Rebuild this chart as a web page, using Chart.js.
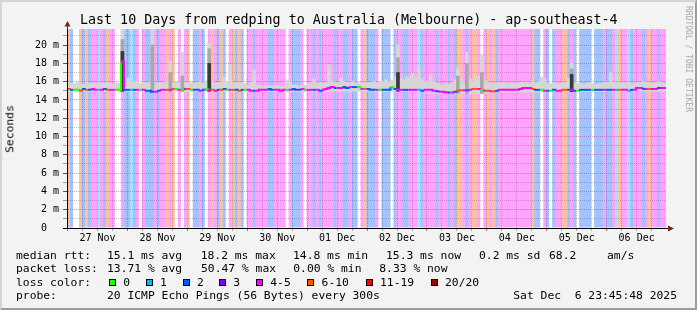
<!DOCTYPE html>
<html>
<head>
<meta charset="utf-8">
<script src="https://cdn.jsdelivr.net/npm/chart.js@4.4.1/dist/chart.umd.min.js"></script>
<style>
html, body { margin: 0; padding: 0; background: #f3f3f3; }
#frame { position: absolute; left: 0; top: 0; width: 697px; height: 310px; box-sizing: border-box;
  background: #f3f3f3; border-top: 2px solid #d4d4d4; border-left: 2px solid #d4d4d4;
  border-right: 2px solid #9c9c9c; border-bottom: 2px solid #9c9c9c; }
canvas { position: absolute; left: 0; top: 0; }
.t { position: absolute; font-family: 'DejaVu Sans Mono', monospace; font-size: 11.33px; line-height: 1; white-space: pre; color: #000; }
.sw { position: absolute; width: 5px; height: 5px; border: 1px solid #000; }
</style>
</head>
<body>
<div id="frame"></div>
<canvas id="chart" width="697" height="310"></canvas>
<div id="texts"></div>
<script>
// ---- data ----
var dayLabels = ['27 Nov', '28 Nov', '29 Nov', '30 Nov', '01 Dec', '02 Dec', '03 Dec', '04 Dec', '05 Dec', '06 Dec'];
var yTickValues = [0, 2, 4, 6, 8, 10, 12, 14, 16, 18, 20];
var yTickLabels = ['0  ', '2 m', '4 m', '6 m', '8 m', '10 m', '12 m', '14 m', '16 m', '18 m', '20 m'];
var lossLabels = ['0', '1', '2', '3', '4-5', '6-10', '11-19', '20/20'];
var lossColors = ['#26ff00', '#00b8ff', '#0059ff', '#7e00ff', '#ff00ff', '#ff5500', '#ff0000', '#a10000'];

// loss class per 72 min step (index into lossLabels), one string per day
var lossByDay = [
   '52005252441425440042',
   '21240422242445450404',
   '50224204542520452520',
   '44244442244440422240',
   '44242444424422422045',
   '22240222024422444124',
   '44424442425542455404',
   '54524444444444452204',
   '20244552420222202224',
   '22415441244424544244'
];

// median rtt (ms) per 72 min step
var medianByDay = [
   [15.2,15.1,15.1,15.1,15.0,15.2,15.1,15.1,15.2,15.1,15.1,15.1,15.2,15.1,15.1,15.1,15.1,15.1,18.2,15.1],
   [15.1,15.1,15.1,15.1,15.1,15.1,15.0,15.0,14.9,14.9,15.0,15.1,15.1,15.1,15.1,15.2,15.2,15.1,15.1,15.2],
   [15.2,15.1,15.1,15.1,15.0,15.1,15.2,15.1,15.1,15.0,15.1,15.1,15.2,15.1,15.1,15.1,15.1,15.0,15.1,15.1],
   [15.1,15.0,15.0,15.0,15.1,15.1,15.1,15.2,15.1,15.1,15.1,15.0,15.1,15.1,15.1,15.2,15.1,15.1,15.2,15.1],
   [15.1,15.1,15.1,15.1,15.0,15.1,15.2,15.3,15.4,15.3,15.3,15.3,15.4,15.3,15.4,15.4,15.4,15.4,15.2,15.2],
   [15.2,15.1,15.1,15.1,15.1,15.1,15.1,15.1,15.4,15.2,15.1,15.1,15.1,15.1,15.1,15.1,15.1,15.1,15.0,15.1],
   [15.1,15.1,15.0,14.95,14.9,14.9,14.85,14.8,14.8,14.9,15.0,15.05,15.05,15.05,15.1,15.2,15.2,15.2,15.1,15.0],
   [15.0,14.95,14.95,15.0,15.1,15.1,15.1,15.1,15.1,15.1,15.1,15.2,15.3,15.3,15.3,15.2,15.1,15.1,15.1,15.0],
   [15.0,15.0,15.1,15.0,15.0,15.1,15.1,15.1,15.1,15.0,15.0,15.1,15.1,15.1,15.1,15.1,15.1,15.1,15.1,15.1],
   [15.1,15.1,15.1,15.1,15.1,15.1,15.1,15.0,15.1,15.1,15.3,15.3,15.2,15.2,15.2,15.2,15.2,15.3,15.3,15.3]
];

// top of the smoke (slowest ping, ms) per 72 min step
var smokeTopByDay = [
   [15.9,15.8,15.8,15.9,15.8,15.7,15.9,15.8,15.8,15.8,15.7,15.8,15.8,15.9,15.8,15.7,15.8,15.8,21.75,15.8],
   [16.4,16.0,16.0,16.0,15.8,15.9,15.8,15.9,21.75,15.8,15.9,15.8,15.9,16.0,18.2,15.8,16.0,15.9,19.2,15.9],
   [15.8,15.9,15.8,15.9,16.0,15.8,16.1,20.2,16.0,15.8,15.9,15.8,16.5,15.9,17.8,15.8,15.9,15.8,15.9,15.8],
   [15.6,15.9,17.3,15.6,15.6,15.5,15.6,15.6,15.5,15.6,15.6,15.5,15.6,16.2,16.0,15.6,15.6,15.5,15.6,15.6],
   [15.8,15.8,16.3,15.8,15.9,15.8,15.9,17.8,16.0,15.9,15.9,16.4,16.0,15.9,15.9,16.0,15.8,15.9,15.8,15.8],
   [15.9,15.9,16.0,15.8,15.9,16.0,16.2,16.0,16.2,16.5,20.0,16.4,16.2,16.5,16.6,16.9,16.5,17.3,16.3,16.0],
   [16.0,16.7,16.0,15.8,15.7,15.6,15.8,15.7,15.8,16.2,17.5,16.2,16.0,19.2,16.3,16.0,16.4,16.6,18.9,16.1],
   [15.9,15.8,15.8,15.9,15.8,15.9,15.8,15.8,15.9,15.8,15.8,15.9,15.9,15.9,15.8,16.0,15.9,16.0,16.5,16.3],
   [15.8,15.8,15.9,15.8,15.7,15.8,15.9,16.4,18.0,15.9,15.8,15.8,15.7,15.8,15.9,15.8,15.7,15.8,15.8,15.9],
   [15.9,17.0,15.9,15.8,15.8,15.9,15.8,15.9,15.8,15.8,15.9,15.9,16.0,15.9,15.9,15.8,15.9,16.0,15.9,15.8]
];
// bottom of the smoke (fastest ping, ms) per day
var smokeLowByDay = [14.95, 14.9, 14.95, 14.9, 14.95, 14.95, 14.7, 14.85, 14.9, 14.95];

// denser smoke on the big spikes
var spikeSteps = [18, 28, 34, 38, 47, 110, 130, 133, 138, 168];
var spikeMid   = [20.6, 20.0, 17.0, 16.6, 19.6, 18.6, 16.6, 18.0, 17.0, 17.4];
var spikeDark  = [19.3, 0, 0, 0, 18.0, 17.0, 0, 0, 0, 16.8];

var spanHours = 240;
var yMax = 21.75;
var firstMidnight = 24 - (23 + 45 / 60 + 48 / 3600); // graph starts 26 Nov 23:45:48

// ---- build series ----
var loss = lossByDay.join('').split('').map(Number);
var median = [].concat.apply([], medianByDay);
var smokeTop = [].concat.apply([], smokeTopByDay);
var steps = loss.length;
var stepHours = spanHours / steps;
function lowAt(i) { return smokeLowByDay[Math.floor(i / 20)]; }
function center(i) { return (i + 0.5) * stepHours; }

function rgba(hex, a) {
   var n = parseInt(hex.slice(1), 16);
   return 'rgba(' + (n >> 16) + ',' + ((n >> 8) & 255) + ',' + (n & 255) + ',' + a + ')';
}

var gridHours = [];
for (var h = firstMidnight; h < spanHours; h += 6) gridHours.push(h);

var GRID = 'rgba(140,140,140,0.55)';
var MGRID = 'rgba(222,94,94,0.6)';
var FONT = 'DejaVu Sans Mono';

function barSet(order, data, color, inflate) {
   return {
      type: 'bar', order: order, grouped: false,
      barPercentage: 1, categoryPercentage: 1, borderWidth: 0,
      inflateAmount: inflate, data: data, backgroundColor: color
   };
}

var bands = barSet(5,
   loss.map(function(k, i) { return { x: center(i), y: yMax }; }),
   loss.map(function(k) { return k === 0 ? 'rgba(0,0,0,0)' : rgba(lossColors[k], 0.37); }), 0);
var smoke = barSet(4,
   smokeTop.map(function(v, i) { return { x: center(i), y: [lowAt(i), v] }; }), '#d6d6d6', 'auto');
var smokeMid = barSet(3,
   spikeSteps.map(function(s, j) { return { x: center(s), y: [lowAt(s), spikeMid[j]] }; }), '#a9a9a9', 'auto');
var darkData = [];
spikeSteps.forEach(function(s, j) { if (spikeDark[j] > 0) darkData.push({ x: center(s), y: [lowAt(s), spikeDark[j]] }); });
var smokeDark = barSet(2, darkData, '#3a3a3a', 'auto');

var lineData = median.map(function(v, i) { return { x: i * stepHours, y: v }; });
lineData.push({ x: spanHours, y: median[steps - 1] });
var medianLine = {
   type: 'line', order: 0, data: lineData, stepped: 'before',
   borderWidth: 2, pointRadius: 0, borderColor: lossColors[2],
   segment: { borderColor: function(ctx) { return lossColors[loss[ctx.p0DataIndex]]; } }
};

var decor = {
   id: 'decor',
   beforeDraw: function(chart) {
      var a = chart.chartArea, c = chart.ctx;
      c.save();
      c.fillStyle = '#ffffff';
      c.fillRect(a.left, a.top, a.right - a.left, a.bottom - a.top);
      c.restore();
   },
   afterDraw: function(chart) {
      var a = chart.chartArea, c = chart.ctx;
      var x0 = a.left + 0.5, yb = a.bottom + 0.5;
      c.save();
      c.strokeStyle = '#000';
      c.lineWidth = 1;
      c.beginPath();
      c.moveTo(a.left - 4, yb); c.lineTo(a.left, yb);
      c.moveTo(a.right, yb); c.lineTo(a.right + 2, yb);
      c.stroke();
      c.strokeStyle = '#7f1f1f';
      c.beginPath();
      c.moveTo(x0, a.top); c.lineTo(x0, a.top - 3);
      c.stroke();
      c.fillStyle = '#7f1f1f';
      c.beginPath();
      c.moveTo(x0 - 3, a.top - 2.5); c.lineTo(x0 + 3, a.top - 2.5); c.lineTo(x0, a.top - 8);
      c.closePath(); c.fill();
      c.beginPath();
      c.moveTo(a.right + 2, yb - 3); c.lineTo(a.right + 2, yb + 3); c.lineTo(a.right + 8, yb);
      c.closePath(); c.fill();
      c.restore();
   }
};

new Chart(document.getElementById('chart'), {
   type: 'bar',
   data: { datasets: [bands, smoke, smokeMid, smokeDark, medianLine] },
   plugins: [decor],
   options: {
      responsive: false,
      animation: false,
      events: [],
      layout: { padding: { left: 0, right: 31, top: 29, bottom: 62 } },
      plugins: { legend: { display: false }, tooltip: { enabled: false } },
      scales: {
         x: {
            type: 'linear', min: 0, max: spanHours, offset: false,
            afterFit: function(s) { s.height = 20; },
            afterBuildTicks: function(s) { s.ticks = gridHours.map(function(v) { return { value: v }; }); },
            ticks: {
               autoSkip: false, maxRotation: 0, minRotation: 0, padding: 1, color: '#000',
               font: { family: FONT, size: 10 },
               callback: function(v, i) { return i % 4 === 2 ? dayLabels[(i - 2) / 4] : ''; }
            },
            grid: {
               offset: false, lineWidth: 1, tickLength: 3, tickBorderDash: [],
               color: function(ctx) { return ctx.index % 4 === 0 ? MGRID : GRID; },
               tickColor: function(ctx) { return ctx.index % 4 === 0 ? '#de5e5e' : '#aaaaaa'; }
            },
            border: { display: true, color: '#000', width: 1, dash: [1, 1], z: 1 }
         },
         y: {
            min: 0, max: yMax,
            afterFit: function(s) { s.width = 67; },
            afterBuildTicks: function(s) {
               var t = [];
               for (var v = 0; v <= 21; v++) t.push({ value: v });
               s.ticks = t;
            },
            ticks: {
               autoSkip: false, padding: 4, color: '#000',
               font: { family: FONT, size: 10 },
               callback: function(v) {
                  var j = yTickValues.indexOf(v);
                  return j >= 0 ? yTickLabels[j] : '';
               }
            },
            grid: {
               lineWidth: 1, tickLength: 4, tickBorderDash: [],
               color: function(ctx) { return ctx.tick && ctx.tick.value % 2 === 0 ? MGRID : GRID; },
               tickColor: function(ctx) { return ctx.tick && ctx.tick.value % 2 === 0 ? '#555' : '#999'; }
            },
            border: { display: true, color: '#000', width: 1, dash: [1, 1], z: 1 }
         }
      }
   }
});

// ---- texts around the graph ----
var legendRows = [
   [[16, 'median rtt:'], [107, '15.1 ms avg'], [200.7, '18.2 ms max'], [293, '14.8 ms min'], [386, '15.3 ms now'], [479, '0.2 ms sd'], [549, '68.2'], [607, 'am/s']],
   [[16, 'packet loss:'], [107, '13.71 % avg'], [201, '50.47 % max'], [293.3, '0.00 % min'], [379.3, '8.33 % now']],
   [[16, 'loss color:']],
   [[16, 'probe:'], [107, '20 ICMP Echo Pings (56 Bytes) every 300s'], [513.3, 'Sat Dec  6 23:45:48 2025']]
];
var swatchX = [109, 145.7, 182.7, 219, 256, 307.3, 365.7, 430.7];

var box = document.getElementById('texts');
function addText(x, top, str, style) {
   var d = document.createElement('div');
   d.className = 't';
   d.style.left = x + 'px';
   d.style.top = top + 'px';
   if (style) for (var k in style) d.style[k] = style[k];
   d.textContent = str;
   box.appendChild(d);
   return d;
}

addText(80, 12.7, 'Last 10 Days from redping to Australia (Melbourne) - ap-southeast-4', { fontSize: '13.33px' });

legendRows.forEach(function(row, r) {
   var top = 259.3 + r * 13.56 - 9.59;
   row.forEach(function(p) { addText(p[0], top, p[1]); });
});
var swTop = 259.3 + 2 * 13.56 - 9.59;
lossLabels.forEach(function(lbl, i) {
   var s = document.createElement('div');
   s.className = 'sw';
   s.style.left = swatchX[i] + 'px';
   s.style.top = '278.5px';
   s.style.background = lossColors[i];
   box.appendChild(s);
   addText(swatchX[i] + 14.3, swTop, lbl);
});

addText(10.4, 128.5, 'Seconds', { transform: 'translate(-50%,-50%) rotate(-90deg)' });
addText(688, 58.5, 'RRDTOOL / TOBI OETIKER', { fontSize: '8px', color: '#a8a8a8', transform: 'translate(-50%,-50%) rotate(90deg)' });
</script>
</body>
</html>
